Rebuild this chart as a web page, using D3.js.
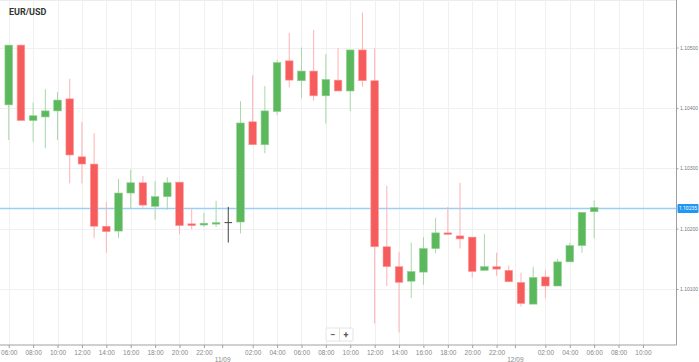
<!DOCTYPE html>
<html>
<head>
<meta charset="utf-8">
<script src="https://cdn.jsdelivr.net/npm/d3@7"></script>
<style>
  body { margin: 0; background: #fff; }
  svg { display: block; font-family: Roboto, "Open Sans", sans-serif; }
</style>
</head>
<body>
<script>
// hourly candles, EUR/USD, starting 10/09 06:00
const opens  = [1.10405,1.10504,1.10379,1.10385,1.10395,1.10415,1.10319,1.10307,1.10204,1.10196,1.10259,1.10276,1.10237,1.10253,1.10277,1.10208,1.10206,1.10208,1.10210,1.10211,1.10377,1.10339,1.10394,1.10478,1.10445,1.10461,1.10420,1.10446,1.10428,1.10496,1.10445,1.10170,1.10137,1.10113,1.10128,1.10167,1.10193,1.10188,1.10186,1.10131,1.10137,1.10131,1.10111,1.10075,1.10120,1.10105,1.10145,1.10172,1.10228];
const highs  = [1.10504,1.10505,1.10409,1.10431,1.10426,1.10448,1.10377,1.10358,1.10244,1.10282,1.10298,1.10287,1.10279,1.10285,1.10277,1.10234,1.10226,1.10246,1.10236,1.10411,1.10454,1.10436,1.10479,1.10524,1.10500,1.10529,1.10489,1.10499,1.10496,1.10558,1.10499,1.10271,1.10161,1.10177,1.10186,1.10218,1.10236,1.10276,1.10186,1.10191,1.10160,1.10139,1.10127,1.10137,1.10131,1.10150,1.10177,1.10227,1.10247];
const lows   = [1.10347,1.10379,1.10344,1.10333,1.10347,1.10275,1.10275,1.10184,1.10160,1.10184,1.10234,1.10235,1.10215,1.10231,1.10191,1.10199,1.10203,1.10203,1.10177,1.10192,1.10339,1.10325,1.10388,1.10434,1.10416,1.10412,1.10374,1.10428,1.10395,1.10435,1.10043,1.10105,1.10028,1.10085,1.10107,1.10159,1.10191,1.10167,1.10119,1.10131,1.10122,1.10112,1.10071,1.10075,1.10085,1.10105,1.10145,1.10160,1.10184];
const closes = [1.10504,1.10379,1.10387,1.10395,1.10413,1.10322,1.10307,1.10204,1.10195,1.10259,1.10276,1.10239,1.10253,1.10276,1.10205,1.10205,1.10209,1.10210,1.10210,1.10375,1.10339,1.10395,1.10475,1.10446,1.10461,1.10420,1.10447,1.10428,1.10496,1.10445,1.10170,1.10137,1.10111,1.10129,1.10167,1.10193,1.10191,1.10183,1.10129,1.10137,1.10133,1.10112,1.10076,1.10119,1.10105,1.10145,1.10172,1.10227,1.10235];
const firstHour = new Date(2019, 8, 10, 6);
const priceTicks = [1.101, 1.102, 1.103, 1.104, 1.105];
const hourTicks = ["06:00","08:00","10:00","12:00","14:00","16:00","18:00","20:00","22:00",
                   "02:00","04:00","06:00","08:00","10:00","12:00","14:00","16:00","18:00","20:00","22:00",
                   "02:00","04:00","06:00","08:00","10:00"];
const dateTicks = ["11/09", "12/09"];
const lastPrice = 1.10235;

const W = 699, H = 362;
const plotRight = 676.5, plotBottom = 345;

const candles = opens.map((o, i) => ({
  t: d3.timeHour.offset(firstHour, i),
  o, h: highs[i], l: lows[i], c: closes[i]
}));

const svg = d3.select("body").append("svg")
  .attr("width", W).attr("height", H);

const x = d3.scaleTime()
  .domain([d3.timeMinute.offset(firstHour, -43), d3.timeMinute.offset(firstHour, 54 * 60 + 45)])
  .range([0, plotRight]);
const y = d3.scaleLinear()
  .domain([1.100073, 1.105787])
  .range([plotBottom, 0]);

// tick dates
const hourDates = [];
for (let h = 0; h <= 52; h += 2) {
  const d = d3.timeHour.offset(firstHour, h);
  if (d.getHours() !== 0) hourDates.push(d);
}
const dateDates = [d3.timeMinute.offset(firstHour, 17 * 60 + 30), d3.timeMinute.offset(firstHour, 41 * 60 + 30)];

// grid
svg.append("line").attr("x1", 0).attr("x2", plotRight).attr("y1", 0.5).attr("y2", 0.5)
  .attr("stroke", "#ececec");
svg.append("g").selectAll("line").data(hourDates.concat(dateDates)).join("line")
  .attr("x1", d => Math.round(x(d)) + 0.5).attr("x2", d => Math.round(x(d)) + 0.5)
  .attr("y1", 0).attr("y2", plotBottom)
  .attr("stroke", "#f0f0f0");
svg.append("g").selectAll("line").data(priceTicks).join("line")
  .attr("x1", 0).attr("x2", plotRight)
  .attr("y1", d => Math.round(y(d)) + 0.5).attr("y2", d => Math.round(y(d)) + 0.5)
  .attr("stroke", "#f0f0f0");

// current price line
const ly = Math.round(y(lastPrice)) + 0.5;
svg.append("line").attr("x1", 0).attr("x2", plotRight)
  .attr("y1", ly).attr("y2", ly)
  .attr("stroke", "#9ccff5").attr("stroke-width", 1.5);

// candles
const green = "#5cb85c", red = "#f75c5c";
const bw = 7.6;
const g = svg.append("g");
g.selectAll("line.wick").data(candles).join("line")
  .attr("class", "wick")
  .attr("x1", d => x(d.t)).attr("x2", d => x(d.t))
  .attr("y1", d => y(d.h)).attr("y2", d => y(d.l))
  .attr("stroke", d => d.c === d.o ? "#444" : d.c > d.o ? "#a8d8a8" : "#ffb3b3")
  .attr("stroke-width", 1);
g.selectAll("rect").data(candles.filter(d => d.c !== d.o)).join("rect")
  .attr("x", d => x(d.t) - bw / 2)
  .attr("width", bw)
  .attr("y", d => y(Math.max(d.o, d.c)))
  .attr("height", d => Math.max(1.5, Math.abs(y(d.o) - y(d.c))))
  .attr("fill", d => d.c > d.o ? green : red)
  .attr("stroke", d => d.c > d.o ? "#8fd08f" : "#ff9a9a")
  .attr("stroke-width", 0.6);
g.selectAll("line.doji").data(candles.filter(d => d.c === d.o)).join("line")
  .attr("class", "doji")
  .attr("x1", d => x(d.t) - bw / 2).attr("x2", d => x(d.t) + bw / 2)
  .attr("y1", d => y(d.o)).attr("y2", d => y(d.o))
  .attr("stroke", "#444").attr("stroke-width", 1);

// right price axis
const yAxis = svg.append("g")
  .attr("transform", `translate(${plotRight},0)`)
  .call(d3.axisRight(y).tickValues(priceTicks).tickFormat(d3.format(".5f")).tickSize(2).tickPadding(1.5));
yAxis.select(".domain").attr("stroke", "#a0a0a0").attr("d", `M0,0V${plotBottom}`);
yAxis.selectAll(".tick line").attr("stroke", "#a0a0a0");
yAxis.selectAll("text").attr("fill", "#777").attr("font-size", 5);

// bottom time axis
const xAxis = svg.append("g")
  .attr("transform", `translate(0,${plotBottom})`)
  .call(d3.axisBottom(x).tickValues(hourDates).tickFormat((d, i) => hourTicks[i]).tickSize(3).tickPadding(2));
xAxis.select(".domain").attr("stroke", "#a0a0a0").attr("d", `M0,0H${plotRight}`);
xAxis.selectAll(".tick line").attr("stroke", "#a0a0a0");
xAxis.selectAll("text").attr("fill", "#888").attr("font-size", 6.5);

const dAxis = svg.append("g")
  .attr("transform", `translate(0,${plotBottom})`)
  .call(d3.axisBottom(x).tickValues(dateDates).tickFormat((d, i) => dateTicks[i]).tickSize(3).tickPadding(9));
dAxis.select(".domain").remove();
dAxis.selectAll(".tick line").attr("stroke", "#a0a0a0");
dAxis.selectAll("text").attr("fill", "#888").attr("font-size", 6.5);

// last price label
svg.append("rect").attr("x", plotRight + 1).attr("y", ly - 4.5).attr("width", 21).attr("height", 9)
  .attr("rx", 1).attr("fill", "#2196f3");
svg.append("text").attr("x", plotRight + 11.5).attr("y", ly + 1.8)
  .attr("text-anchor", "middle").attr("fill", "#fff").attr("font-size", 5)
  .text(d3.format(".5f")(lastPrice));

// title
svg.append("text").attr("x", 9).attr("y", 15)
  .attr("font-size", 9).attr("font-weight", "bold").attr("fill", "#333")
  .text("EUR/USD");

// zoom control
const zc = svg.append("g").attr("transform", "translate(326,328)");
zc.append("rect").attr("width", 27).attr("height", 13).attr("fill", "#fff")
  .attr("stroke", "#e4e4e4").attr("rx", 1);
zc.append("line").attr("x1", 13.5).attr("x2", 13.5).attr("y1", 0).attr("y2", 13).attr("stroke", "#e4e4e4");
zc.append("text").attr("x", 6.5).attr("y", 9.5).attr("text-anchor", "middle")
  .attr("font-size", 9).attr("font-weight", "bold").attr("fill", "#555").text("−");
zc.append("text").attr("x", 20).attr("y", 9.5).attr("text-anchor", "middle")
  .attr("font-size", 9).attr("font-weight", "bold").attr("fill", "#555").text("+");
</script>
</body>
</html>
